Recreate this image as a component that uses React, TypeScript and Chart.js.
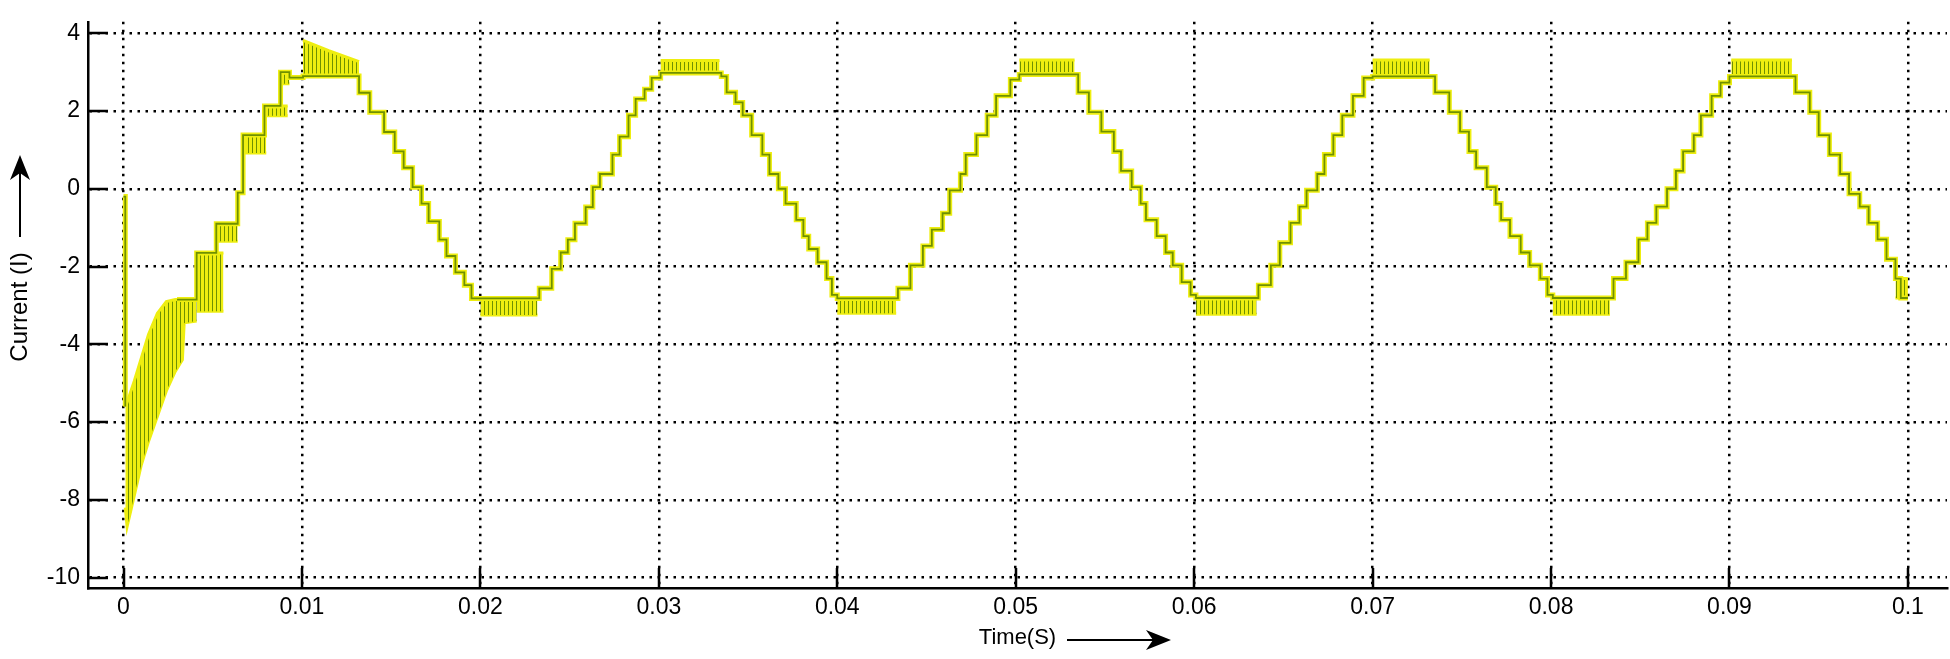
import React, { useEffect, useRef } from 'react';
import { Chart, registerables } from 'chart.js';

Chart.register(...registerables);

// ---------- axes ----------
const xTickValues = [0, 0.01, 0.02, 0.03, 0.04, 0.05, 0.06, 0.07, 0.08, 0.09, 0.1];
const xTickLabels = ['0', '0.01', '0.02', '0.03', '0.04', '0.05', '0.06', '0.07', '0.08', '0.09', '0.1'];
const yTickValues = [-10, -8, -6, -4, -2, 0, 2, 4];
const yTickLabels = ['-10', '-8', '-6', '-4', '-2', '0', '2', '4'];
const xLimits = [-0.00199, 0.10219];
const yLimits = [-10.27, 4.295];

// ---------- staircase levels: [time (s), current level that starts at that time] ----------
const startSpike = [[0, -0.2], [0.0001, -5.6]];
const startStairs = [[0.003, -2.85], [0.0041, -1.65], [0.0052, -0.9], [0.0064, -0.1], [0.0067, 1.38], [0.0079, 2.13], [0.0088, 3.0], [0.0093, 2.86], [0.01006, 2.9]];
const fall1 = [[0.0132, 2.47], [0.0138, 1.97], [0.0146, 1.46], [0.0152, 0.96], [0.0157, 0.54], [0.0162, 0.04], [0.0167, -0.38], [0.0171, -0.84], [0.0177, -1.31], [0.0181, -1.73], [0.0186, -2.15], [0.0191, -2.48], [0.0195, -2.82]];
const rise1 = [[0.0233, -2.56], [0.024, -2.06], [0.0245, -1.64], [0.0249, -1.31], [0.0253, -0.89], [0.0259, -0.47], [0.0263, 0.04], [0.0267, 0.38], [0.0274, 0.88], [0.0278, 1.34], [0.0283, 1.89], [0.0287, 2.31], [0.0292, 2.56], [0.0296, 2.85], [0.0301, 2.98]];
const fall2 = [[0.0335, 2.89], [0.0338, 2.48], [0.0343, 2.22], [0.0347, 1.89], [0.0352, 1.38], [0.0358, 0.88], [0.0362, 0.38], [0.0367, 0.0], [0.0371, -0.38], [0.0377, -0.8], [0.0381, -1.22], [0.0384, -1.55], [0.0389, -1.89], [0.0394, -2.31], [0.0397, -2.73], [0.04, -2.82]];
const rise2 = [[0.0434, -2.56], [0.0441, -1.97], [0.0448, -1.47], [0.0453, -1.05], [0.0459, -0.63], [0.0463, -0.04], [0.0469, 0.38], [0.0472, 0.88], [0.0478, 1.38], [0.0484, 1.89], [0.0489, 2.39], [0.0497, 2.81], [0.0502, 2.94]];
const fall3 = [[0.0535, 2.48], [0.0541, 1.97], [0.0548, 1.47], [0.0555, 0.96], [0.0559, 0.46], [0.0565, 0.04], [0.057, -0.38], [0.0573, -0.8], [0.0579, -1.22], [0.0584, -1.64], [0.0588, -1.97], [0.0593, -2.4], [0.0598, -2.73], [0.0601, -2.81]];
const rise3 = [[0.0636, -2.48], [0.0643, -1.97], [0.0648, -1.39], [0.0654, -0.88], [0.0659, -0.46], [0.0663, -0.04], [0.0669, 0.38], [0.0673, 0.88], [0.0678, 1.38], [0.0683, 1.89], [0.0689, 2.39], [0.0695, 2.85], [0.07, 2.89]];
const fall4 = [[0.0735, 2.48], [0.0743, 1.97], [0.0749, 1.47], [0.0754, 0.96], [0.0758, 0.54], [0.0764, 0.04], [0.0769, -0.38], [0.0772, -0.8], [0.0777, -1.22], [0.0783, -1.64], [0.0788, -1.97], [0.0794, -2.31], [0.0798, -2.73], [0.0801, -2.81]];
const rise4 = [[0.0835, -2.31], [0.0842, -1.89], [0.0849, -1.3], [0.0854, -0.88], [0.0859, -0.46], [0.0865, 0.0], [0.087, 0.46], [0.0874, 0.96], [0.088, 1.38], [0.0884, 1.89], [0.089, 2.39], [0.0895, 2.73], [0.09, 2.89]];
const fall5 = [[0.0937, 2.48], [0.0945, 1.97], [0.095, 1.38], [0.0956, 0.88], [0.0962, 0.38], [0.0967, -0.13], [0.0973, -0.46], [0.0978, -0.88], [0.0983, -1.3], [0.0988, -1.81], [0.0993, -2.31], [0.0996, -2.81], [0.1, -2.81]];

// ---------- switching bands: [time (s), lower envelope, upper envelope] ----------
const startBand = [[0.0001, -8.2, -5.6], [0.0002, -8.69, -5.5], [0.0006, -7.9, -4.95], [0.001, -7.1, -4.35], [0.0014, -6.5, -3.75], [0.0019, -5.85, -3.2], [0.0024, -5.2, -2.9], [0.0029, -4.7, -2.85], [0.0033, -4.4, -2.85], [0.0034, -3.45, -2.85], [0.0041, -3.4, -2.85]];
const bandB = [[0.0041, -3.15, -1.65], [0.0056, -3.15, -1.65]];
const bandC = [[0.0052, -1.35, -0.9], [0.0064, -1.35, -0.9]];
const bandD = [[0.0067, 0.92, 1.38], [0.008, 0.92, 1.38]];
const bandE = [[0.0079, 1.88, 2.13], [0.0092, 1.88, 2.13]];
const bandF = [[0.0088, 2.7, 3.0], [0.0093, 2.7, 3.0]];
const peak1 = [[0.01006, 2.9, 3.82], [0.0115, 2.9, 3.55], [0.0132, 2.9, 3.27]];
const trough1 = [[0.02, -3.25, -2.82], [0.0232, -3.25, -2.82]];
const peak2 = [[0.0301, 2.98, 3.3], [0.0334, 2.98, 3.3]];
const trough2 = [[0.04, -3.2, -2.82], [0.0433, -3.2, -2.82]];
const peak3 = [[0.0502, 2.94, 3.31], [0.0533, 2.94, 3.31]];
const trough3 = [[0.0601, -3.23, -2.81], [0.0635, -3.23, -2.81]];
const peak4 = [[0.07, 2.89, 3.31], [0.0732, 2.89, 3.31]];
const trough4 = [[0.0801, -3.23, -2.81], [0.0833, -3.23, -2.81]];
const peak5 = [[0.0901, 2.89, 3.31], [0.0935, 2.89, 3.31]];
const endBand = [[0.0993, -2.81, -2.31], [0.1, -2.81, -2.31]];

const FONT = "'Liberation Sans', Arial, Helvetica, sans-serif";
const TRACE = '#6f9000';
const HALO = '#eeee10';

function drawArrow(ctx: CanvasRenderingContext2D, x1: number, y1: number, x2: number, y2: number) {
  const ang = Math.atan2(y2 - y1, x2 - x1);
  const headLen = 25;
  const halfW = 10;
  const notch = 7;
  const bx = x2 - headLen * Math.cos(ang);
  const by = y2 - headLen * Math.sin(ang);
  ctx.beginPath();
  ctx.moveTo(x1, y1);
  ctx.lineTo(bx + notch * Math.cos(ang), by + notch * Math.sin(ang));
  ctx.stroke();
  ctx.beginPath();
  ctx.moveTo(x2, y2);
  ctx.lineTo(bx - halfW * Math.sin(ang), by + halfW * Math.cos(ang));
  ctx.lineTo(bx + notch * Math.cos(ang), by + notch * Math.sin(ang));
  ctx.lineTo(bx + halfW * Math.sin(ang), by - halfW * Math.cos(ang));
  ctx.closePath();
  ctx.fill();
}

const decorations = {
  id: 'decorations',
  afterDraw(chart: any) {
    const { ctx, chartArea } = chart;
    const x = chart.scales.x;
    const y = chart.scales.y;
    ctx.save();
    ctx.strokeStyle = '#000';
    ctx.fillStyle = '#000';
    ctx.lineWidth = 2.5;
    ctx.beginPath();
    xTickValues.forEach((v) => {
      const px = Math.round(x.getPixelForValue(v));
      ctx.moveTo(px, chartArea.bottom);
      ctx.lineTo(px, chartArea.bottom - 20);
    });
    yTickValues.forEach((v) => {
      const py = Math.round(y.getPixelForValue(v));
      ctx.moveTo(chartArea.left, py);
      ctx.lineTo(chartArea.left + 20, py);
    });
    ctx.stroke();

    // arrows next to the axis labels
    ctx.lineWidth = 2;
    drawArrow(ctx, 1067, 640, 1171, 640);
    drawArrow(ctx, 20, 237, 20, 155);

    // y-axis label
    ctx.translate(20, 307);
    ctx.rotate(-Math.PI / 2);
    ctx.font = `24px ${FONT}`;
    ctx.textAlign = 'center';
    ctx.textBaseline = 'middle';
    ctx.fillText('Current (I)', 0, 0);
    ctx.restore();
  },
};

const toPts = (arr: number[][]) => arr.map(([t, v]) => ({ x: t, y: v }));

export default function App() {
  const ref = useRef<HTMLCanvasElement>(null);

  useEffect(() => {
    const canvas = ref.current!;
    const ctx = canvas.getContext('2d')!;

    const pc = document.createElement('canvas');
    pc.width = 4;
    pc.height = 4;
    const pctx = pc.getContext('2d')!;
    pctx.fillStyle = HALO;
    pctx.fillRect(0, 0, 4, 4);
    pctx.fillStyle = TRACE;
    pctx.fillRect(0, 0, 1, 4);
    const hatch = ctx.createPattern(pc, 'repeat');

    const stairs = [
      ...toPts(startSpike),
      { x: 0.0002, y: null },
      ...toPts(startStairs),
      ...toPts(fall1), ...toPts(rise1),
      ...toPts(fall2), ...toPts(rise2),
      ...toPts(fall3), ...toPts(rise3),
      ...toPts(fall4), ...toPts(rise4),
      ...toPts(fall5),
    ];

    const bands = [startBand, bandB, bandC, bandD, bandE, bandF, peak1, trough1, peak2, trough2, peak3, trough3, peak4, trough4, peak5, endBand];

    const bandSets: any[] = [];
    bands.forEach((b) => {
      bandSets.push({
        data: b.map(([t, , hi]) => ({ x: t, y: hi })),
        borderColor: HALO,
        borderWidth: 3,
        backgroundColor: hatch,
        fill: '+1',
        pointRadius: 0,
        tension: 0,
      });
      bandSets.push({
        data: b.map(([t, lo]) => ({ x: t, y: lo })),
        borderColor: HALO,
        borderWidth: 3,
        fill: false,
        pointRadius: 0,
        tension: 0,
      });
    });

    const chart = new Chart(ctx, {
      type: 'line',
      data: {
        datasets: [
          {
            data: stairs,
            borderColor: TRACE,
            borderWidth: 1.8,
            stepped: 'before',
            pointRadius: 0,
            fill: false,
            spanGaps: false,
          },
          {
            data: stairs,
            borderColor: HALO,
            borderWidth: 5,
            stepped: 'before',
            pointRadius: 0,
            fill: false,
            spanGaps: false,
          },
          ...bandSets,
        ] as any,
      },
      options: {
        animation: false,
        responsive: false,
        events: [],
        layout: { padding: { top: 10, right: 3, left: 0, bottom: 0 } },
        plugins: {
          legend: { display: false },
          tooltip: { enabled: false },
        },
        scales: {
          x: {
            type: 'linear',
            min: xLimits[0],
            max: xLimits[1],
            afterBuildTicks: (axis: any) => {
              axis.ticks = xTickValues.map((v) => ({ value: v }));
            },
            afterFit: (axis: any) => {
              axis.height = 71;
            },
            ticks: {
              autoSkip: false,
              maxRotation: 0,
              padding: 6,
              color: '#000',
              font: { family: FONT, size: 23 },
              callback: (_v: any, i: number) => xTickLabels[i],
            },
            grid: {
              color: '#000',
              lineWidth: 2.5,
              drawTicks: false,
            },
            border: { display: true, color: '#000', width: 2.5, dash: [2.5, 5.5] },
            title: {
              display: true,
              text: 'Time(S)',
              color: '#000',
              font: { family: FONT, size: 22 },
              padding: { top: 0, bottom: 8 },
            },
          },
          y: {
            type: 'linear',
            min: yLimits[0],
            max: yLimits[1],
            afterBuildTicks: (axis: any) => {
              axis.ticks = yTickValues.map((v) => ({ value: v }));
            },
            afterFit: (axis: any) => {
              axis.width = 88;
            },
            ticks: {
              autoSkip: false,
              padding: 8,
              color: '#000',
              font: { family: FONT, size: 23 },
              callback: (_v: any, i: number) => yTickLabels[i],
            },
            grid: {
              color: '#000',
              lineWidth: 2.5,
              drawTicks: false,
            },
            border: { display: true, color: '#000', width: 2.5, dash: [2.5, 5.5] },
          },
        },
      },
      plugins: [decorations],
    } as any);

    return () => chart.destroy();
  }, []);

  return (
    <canvas
      ref={ref}
      width={1950}
      height={659}
      style={{ position: 'fixed', left: 0, top: 0, width: 1950, height: 659 }}
    />
  );
}
